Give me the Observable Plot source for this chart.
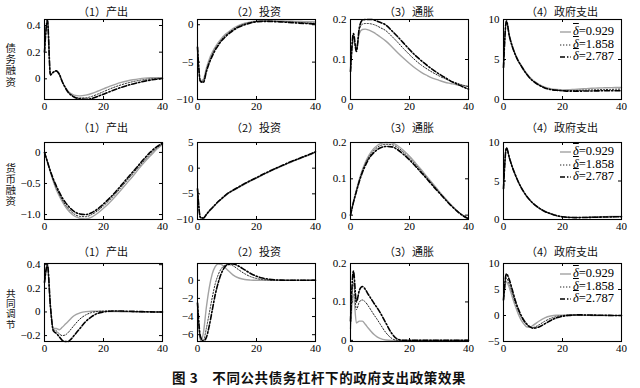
<!DOCTYPE html>
<html><head><meta charset="utf-8">
<script src="https://cdn.jsdelivr.net/npm/d3@7"></script>
<script src="https://cdn.jsdelivr.net/npm/@observablehq/plot@0.6"></script>
<style>
body{margin:0;background:#fff;}
#root{position:relative;width:640px;height:388px;overflow:hidden;font-family:"Liberation Serif",serif;color:#000;}
.panel{position:absolute;}
.ttl{position:absolute;font-family:"Noto Sans CJK SC",sans-serif;font-size:11px;transform:translate(-50%,-50%);white-space:nowrap;color:#111;}
.rlab{position:absolute;font-family:"Noto Sans CJK SC",sans-serif;writing-mode:vertical-rl;text-orientation:upright;transform:translate(-50%,-50%);white-space:nowrap;color:#111;line-height:1;}
.cap{position:absolute;font-family:"Noto Sans CJK SC",sans-serif;font-size:13.5px;font-weight:bold;transform:translate(-50%,-50%);white-space:nowrap;letter-spacing:0.6px;color:#111;}
.leg{position:absolute;font-family:"Liberation Serif",serif;font-size:12.5px;}
.leg div{height:12.5px;line-height:12.5px;white-space:nowrap;}
.leg svg{vertical-align:middle;margin-right:2px;}
.ob{text-decoration:overline;font-style:italic;}
</style></head><body><div id="root"></div><script>
// periods
const X = [0,1,2,3,4,5,6,7,8,9,10,12,14,16,18,20,22,24,26,28,30,32,34,36,38,40];
const legendLabels = ["0.929","1.858","2.787"];
const colTitles = ["（1）产出","（2）投资","（3）通胀","（4）政府支出"];
const rowTitles = ["债务融资","货币融资","共同调节"];
const xTicks = [0,20,40];
const caption = "图 3　不同公共债务杠杆下的政府支出政策效果";

// Row 1: 债务融资  [gray δ=0.929, dotted δ=1.858, dash-dot δ=2.787]
const debtOutput = [
 [0.2,0.44,0.03,0.05,0.06,0.035,-0.02,-0.06,-0.092,-0.111,-0.122,-0.128,-0.122,-0.11,-0.093,-0.075,-0.057,-0.041,-0.027,-0.016,-0.007,0.0,0.005,0.008,0.009,0.009],
 [0.2,0.44,0.03,0.05,0.06,0.035,-0.02,-0.063,-0.097,-0.118,-0.132,-0.143,-0.142,-0.132,-0.115,-0.096,-0.077,-0.06,-0.045,-0.032,-0.021,-0.012,-0.005,0.0,0.003,0.005],
 [0.2,0.44,0.03,0.05,0.06,0.035,-0.02,-0.065,-0.1,-0.122,-0.137,-0.15,-0.153,-0.147,-0.132,-0.115,-0.097,-0.08,-0.064,-0.05,-0.038,-0.027,-0.017,-0.009,-0.003,0.003]
];
const debtInvest = [
 [-3,-7.5,-7.3,-5.8,-4.6,-3.7,-3.0,-2.4,-1.9,-1.45,-1.1,-0.5,-0.1,0.2,0.38,0.48,0.52,0.53,0.52,0.5,0.48,0.46,0.44,0.42,0.4,0.38],
 [-3,-7.6,-7.5,-6.1,-4.9,-4.0,-3.2,-2.6,-2.1,-1.6,-1.25,-0.65,-0.2,0.1,0.3,0.42,0.47,0.48,0.46,0.43,0.4,0.36,0.32,0.28,0.24,0.2],
 [-3,-7.6,-7.7,-6.3,-5.1,-4.2,-3.4,-2.8,-2.2,-1.8,-1.4,-0.8,-0.3,0.0,0.25,0.4,0.45,0.45,0.42,0.38,0.33,0.28,0.23,0.18,0.14,0.1]
];
const debtInfl = [
 [0.07,0.145,0.13,0.165,0.175,0.176,0.174,0.171,0.167,0.162,0.157,0.146,0.132,0.117,0.103,0.09,0.078,0.068,0.06,0.053,0.048,0.043,0.04,0.037,0.035,0.033],
 [0.07,0.155,0.125,0.175,0.188,0.19,0.19,0.189,0.187,0.184,0.18,0.172,0.158,0.143,0.127,0.112,0.098,0.086,0.076,0.067,0.059,0.052,0.046,0.041,0.036,0.032],
 [0.07,0.165,0.12,0.18,0.198,0.2,0.2,0.2,0.199,0.196,0.193,0.186,0.172,0.157,0.141,0.125,0.11,0.097,0.085,0.074,0.064,0.055,0.046,0.039,0.032,0.026]
];
const debtGov = [
 [4,9.8,8.0,6.7,5.7,4.9,4.3,3.7,3.2,2.75,2.4,1.9,1.55,1.35,1.25,1.2,1.22,1.27,1.32,1.36,1.4,1.43,1.46,1.48,1.5,1.5],
 [4,9.8,7.9,6.6,5.6,4.8,4.2,3.6,3.1,2.65,2.3,1.8,1.45,1.25,1.15,1.1,1.1,1.12,1.15,1.18,1.2,1.22,1.24,1.26,1.28,1.3],
 [4,9.8,7.9,6.6,5.6,4.8,4.2,3.6,3.1,2.65,2.3,1.8,1.45,1.25,1.15,1.1,1.05,1.05,1.05,1.06,1.07,1.08,1.09,1.1,1.1,1.1]
];
// Row 2: 货币融资
const moneyOutput = [
 [0,-0.16,-0.32,-0.47,-0.6,-0.7,-0.79,-0.87,-0.93,-0.98,-1.02,-1.06,-1.07,-1.04,-0.98,-0.9,-0.81,-0.71,-0.6,-0.49,-0.38,-0.26,-0.15,-0.05,0.05,0.13],
 [0,-0.15,-0.31,-0.45,-0.57,-0.67,-0.76,-0.84,-0.9,-0.95,-0.99,-1.03,-1.035,-1.0,-0.94,-0.86,-0.77,-0.67,-0.56,-0.45,-0.34,-0.23,-0.12,-0.02,0.07,0.14],
 [0,-0.15,-0.3,-0.43,-0.54,-0.64,-0.73,-0.8,-0.86,-0.91,-0.95,-0.99,-1.0,-0.97,-0.91,-0.83,-0.74,-0.64,-0.53,-0.42,-0.31,-0.2,-0.09,0.01,0.09,0.15]
];
const moneyInvest = [
 [-4,-9.7,-9.8,-9.1,-8.4,-7.8,-7.2,-6.6,-6.1,-5.6,-5.1,-4.4,-3.75,-3.1,-2.5,-1.95,-1.35,-0.8,-0.25,0.25,0.75,1.25,1.7,2.15,2.6,3.1],
 [-4,-9.6,-9.75,-9.05,-8.35,-7.75,-7.15,-6.55,-6.05,-5.55,-5.05,-4.35,-3.7,-3.05,-2.45,-1.9,-1.3,-0.75,-0.2,0.3,0.8,1.3,1.75,2.2,2.65,3.15],
 [-4,-9.6,-9.7,-9.0,-8.3,-7.7,-7.1,-6.5,-6.0,-5.5,-5.0,-4.3,-3.65,-3.0,-2.4,-1.85,-1.25,-0.7,-0.15,0.35,0.85,1.35,1.8,2.25,2.7,3.2]
];
const moneyInfl = [
 [0,0.037,0.069,0.099,0.124,0.145,0.161,0.174,0.184,0.191,0.196,0.2,0.199,0.191,0.178,0.162,0.144,0.125,0.105,0.086,0.066,0.047,0.029,0.013,0.0,-0.01],
 [0,0.036,0.067,0.096,0.121,0.141,0.157,0.169,0.179,0.186,0.191,0.195,0.194,0.186,0.173,0.157,0.14,0.121,0.102,0.083,0.064,0.046,0.028,0.013,0.0,-0.01],
 [0,0.035,0.065,0.093,0.117,0.136,0.152,0.164,0.173,0.18,0.185,0.189,0.188,0.18,0.167,0.152,0.135,0.117,0.099,0.08,0.062,0.044,0.027,0.012,-0.001,-0.01]
];
const moneyGov = [
 [4,9.3,8.0,6.8,5.8,4.9,4.15,3.5,2.95,2.5,2.1,1.5,1.05,0.75,0.5,0.35,0.3,0.28,0.28,0.3,0.32,0.34,0.36,0.38,0.4,0.4],
 [4,9.3,8.0,6.8,5.8,4.9,4.15,3.5,2.95,2.5,2.1,1.5,1.05,0.75,0.5,0.35,0.28,0.26,0.26,0.27,0.29,0.31,0.33,0.35,0.36,0.37],
 [4,9.3,8.0,6.8,5.8,4.9,4.15,3.5,2.95,2.5,2.1,1.5,1.05,0.75,0.5,0.35,0.28,0.25,0.25,0.26,0.28,0.3,0.32,0.33,0.35,0.35]
];
// Row 3: 共同调节
const jointOutput = [
 [0.25,0.38,0.05,-0.14,-0.14,-0.15,-0.13,-0.105,-0.08,-0.055,-0.032,-0.008,0.003,0.006,0.006,0.005,0.004,0.003,0.002,0.001,0,0,0,0,0,0],
 [0.25,0.39,0.05,-0.15,-0.16,-0.185,-0.2,-0.195,-0.175,-0.145,-0.115,-0.06,-0.025,-0.005,0.004,0.007,0.008,0.007,0.006,0.004,0.003,0.002,0.001,0,0,0],
 [0.25,0.4,0.05,-0.16,-0.18,-0.21,-0.24,-0.25,-0.25,-0.23,-0.2,-0.14,-0.08,-0.04,-0.012,0.0,0.006,0.008,0.008,0.006,0.005,0.003,0.002,0.001,0,0]
];
const jointInvest = [
 [-2.5,-6.7,-5.8,-3.0,-0.8,0.7,1.5,1.8,1.75,1.5,1.2,0.6,0.25,0.08,0.02,0,0,0,0,0,0,0,0,0,0,0],
 [-2.5,-6.5,-6.6,-5.3,-3.6,-1.9,-0.4,0.6,1.25,1.6,1.75,1.6,1.15,0.72,0.4,0.2,0.08,0.03,0.01,0,0,0,0,0,0,0],
 [-2.5,-6.2,-6.7,-6.3,-5.0,-3.3,-1.6,-0.3,0.7,1.35,1.7,1.8,1.55,1.15,0.75,0.45,0.25,0.12,0.05,0.02,0,0,0,0,0,0]
];
const jointInfl = [
 [0.03,0.12,0.045,0.05,0.05,0.042,0.032,0.023,0.015,0.009,0.005,0.001,0,0,0,0,0,0,0,0,0,0,0,0,0,0],
 [0.04,0.15,0.08,0.1,0.105,0.1,0.09,0.078,0.066,0.055,0.043,0.02,0.005,0,0,0,0,0,0,0,0,0,0,0,0,0],
 [0.05,0.18,0.1,0.13,0.14,0.133,0.12,0.108,0.096,0.085,0.073,0.045,0.018,0.003,0,0,0,0,0,0,0,0,0,0,0,0]
];
const jointGov = [
 [3,6.5,5.3,3.5,1.8,0.3,-0.9,-1.7,-2.2,-2.2,-1.9,-1.1,-0.45,-0.1,0.05,0.08,0.07,0.05,0.03,0.02,0.01,0,0,0,0,0],
 [3,7.2,6.0,4.2,2.4,0.9,-0.3,-1.2,-1.9,-2.3,-2.3,-1.8,-1.1,-0.55,-0.2,0.0,0.08,0.1,0.09,0.07,0.05,0.03,0.02,0.01,0,0],
 [3,8.0,6.8,4.9,2.9,1.3,0.0,-1.0,-1.7,-2.2,-2.45,-2.2,-1.6,-0.95,-0.45,-0.15,0.02,0.1,0.12,0.1,0.08,0.06,0.04,0.02,0.01,0]
];

// y tick labels per panel
const yTickLabels = [
 [["0","0.2","0.4"],["-10","-5","0"],["0","0.1","0.2"],["0","5","10"]],
 [["-1.0","-0.5","0"],["-10","-5","0","5"],["0","0.1","0.2"],["0","5","10"]],
 [["-0.2","0","0.2","0.4"],["-6","-4","-2","0"],["0","0.1","0.2"],["-5","0","5","10"]]
];
const yDomains = [
 [[-0.155,0.445],[-10,0.7],[0,0.2],[0,10]],
 [[-1.08,0.16],[-10,5],[-0.012,0.2],[0,10]],
 [[-0.25,0.41],[-6.75,1.85],[-0.003,0.2],[-5,10]]
];
const seriesGrid = [
  [debtOutput, debtInvest, debtInfl, debtGov],
  [moneyOutput, moneyInvest, moneyInfl, moneyGov],
  [jointOutput, jointInvest, jointInfl, jointGov]
];

// layout
const COL_L = [44,197,350,503], FW = 118;
const ROW_T = [19,142,263], FH = [80,77,78];
const TITLE_Y = [11,127,251];
const ROWLAB_Y = [65,184.5,309];
const ROWLAB_LS = [0.8,0.5,0.7];
const ROWLAB_FS = [10.5,10.5,9.6];
const LEG_TOP = [25,145,267];
const STY = [
  {stroke:"#a3a3a3", strokeWidth:1.4},
  {stroke:"#222", strokeWidth:1, strokeDasharray:"1.3,1.7"},
  {stroke:"#000", strokeWidth:1.6, strokeDasharray:"5,2,1.4,2"}
];
const mL=34, mR=6, mT=6, mB=18;
const root = document.getElementById("root");
const minus = s => s.replace("-", "\u2212");

function makePanel(series, yDomain, labels, fw, fh) {
  const yt = labels.map(s => +s);
  const lab = new Map(labels.map(s => [+s, minus(s)]));
  const [y0, y1] = yDomain;
  const ky = (y1 - y0) * 3 / fh;
  const kx = (xTicks[2] - xTicks[0]) * 3 / fw;
  const x0 = xTicks[0], x1 = xTicks[2];
  const marks = [];
  series.forEach((vals, i) => {
    marks.push(Plot.line(X.map((x, j) => ({x, y: vals[j]})), {x: "x", y: "y", curve: "monotone-x", ...STY[i]}));
  });
  marks.push(
    Plot.ruleY(yt, {y: d => d, x1: x0, x2: x0 + kx, stroke: "#000"}),
    Plot.ruleY(yt, {y: d => d, x1: x1 - kx, x2: x1, stroke: "#000"}),
    Plot.ruleX(xTicks, {x: d => d, y1: y0, y2: y0 + ky, stroke: "#000"}),
    Plot.ruleX(xTicks, {x: d => d, y1: y1 - ky, y2: y1, stroke: "#000"}),
    Plot.frame({stroke: "#000", strokeWidth: 1.1}),
    Plot.axisY(yt, {tickSize: 0, tickPadding: 4, tickFormat: d => lab.get(d), label: null}),
    Plot.axisX(xTicks, {tickSize: 0, tickPadding: 3, label: null})
  );
  return Plot.plot({
    width: fw + mL + mR, height: fh + mT + mB,
    marginLeft: mL, marginRight: mR, marginTop: mT, marginBottom: mB,
    x: {domain: [x0, x1]}, y: {domain: yDomain},
    style: {fontFamily: "Liberation Serif, serif", fontSize: "11px", color: "#000", background: "transparent", overflow: "visible"},
    marks
  });
}

for (let r = 0; r < 3; r++) {
  for (let c = 0; c < 4; c++) {
    const svg = makePanel(seriesGrid[r][c], yDomains[r][c], yTickLabels[r][c], FW, FH[r]);
    const wrap = document.createElement("div");
    wrap.className = "panel";
    wrap.style.left = (COL_L[c] - mL) + "px";
    wrap.style.top = (ROW_T[r] - mT) + "px";
    wrap.appendChild(svg);
    root.appendChild(wrap);
    const t = document.createElement("div");
    t.className = "ttl";
    t.textContent = colTitles[c];
    t.style.left = (COL_L[c] + FW / 2) + "px";
    t.style.top = TITLE_Y[r] + "px";
    root.appendChild(t);
  }
  // vertical row label (one text, stacked characters)
  const rl = document.createElement("div");
  rl.className = "rlab";
  rl.textContent = rowTitles[r];
  rl.style.left = "10px";
  rl.style.top = ROWLAB_Y[r] + "px";
  rl.style.fontSize = ROWLAB_FS[r] + "px";
  rl.style.letterSpacing = ROWLAB_LS[r] + "px";
  root.appendChild(rl);
  // legend
  const lg = document.createElement("div");
  lg.className = "leg";
  lg.style.left = "560px";
  lg.style.top = LEG_TOP[r] + "px";
  legendLabels.forEach((v, i) => {
    const row = document.createElement("div");
    const s = STY[i];
    row.innerHTML = `<svg width="11" height="6"><line x1="0" x2="11" y1="3" y2="3" stroke="${s.stroke}" stroke-width="${s.strokeWidth}" ${s.strokeDasharray ? `stroke-dasharray="${s.strokeDasharray}"` : ""}/></svg><span class="ob">δ</span>=${v}`;
    lg.appendChild(row);
  });
  root.appendChild(lg);
}
const cap = document.createElement("div");
cap.className = "cap";
cap.textContent = caption;
cap.style.left = "319px";
cap.style.top = "377px";
root.appendChild(cap);
</script></body></html>
